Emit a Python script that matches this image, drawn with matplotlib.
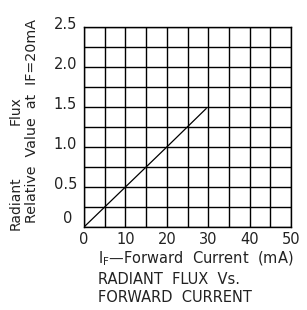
import numpy as np
import matplotlib.pyplot as plt

# forward current (mA) vs relative radiant flux
current_ma = [0, 10, 20, 29.5]
rel_flux = [0, 0.5, 1.0, 1.48]

x_ticks = [0, 10, 20, 30, 40, 50]
y_ticks = [0, 0.5, 1.0, 1.5, 2.0, 2.5]
y_tick_labels = ["0", "0.5", "1.0", "1.5", "2.0", "2.5"]

plt.rcParams['font.family'] = ['DejaVu Sans']
TXT = '#222222'

fig = plt.figure(figsize=(3.07, 3.10), dpi=100)
W, H = 307, 310
ax = fig.add_axes([84 / W, 1 - 227 / H, 207 / W, 200 / H])

ax.plot(current_ma, rel_flux, color='black', lw=0.9)

ax.set_xlim(0, 50)
ax.set_ylim(0, 2.5)
ax.set_xticks(np.arange(0, 50.1, 5))
ax.set_yticks(np.arange(0, 2.51, 0.25))
ax.set_xticklabels([])
ax.set_yticklabels([])
ax.tick_params(length=0)
ax.grid(True, color='black', lw=1.0)
for s in ax.spines.values():
    s.set_color('black')
    s.set_linewidth(1.0)

for v in x_ticks:
    ax.text(v, -0.16, str(v), ha='center', va='center', fontsize=10.5,
            color=TXT)
for v, lab in zip(y_ticks, y_tick_labels):
    if v == 0:
        ax.text(-2.9, 0.11, lab, ha='right', va='center', fontsize=10.5, color=TXT)
    else:
        ax.text(-1.7, v + 0.03, lab, ha='right', va='center', fontsize=10.5, color=TXT)

fig.text(98 / W, 1 - 259 / H, r"I$_\mathregular{F}$—Forward  Current  (mA)",
         ha='left', va='center', fontsize=10.5, color=TXT)
fig.text(98 / W, 1 - 279 / H, "RADIANT  FLUX  Vs.", ha='left', va='center',
         fontsize=10.5, color=TXT)
fig.text(98 / W, 1 - 298 / H, "FORWARD  CURRENT", ha='left', va='center',
         fontsize=10.5, color=TXT)

fig.text(16 / W, 1 - 230 / H, "Radiant", rotation=90, ha='center',
         va='bottom', fontsize=10, color=TXT)
fig.text(16 / W, 1 - 125 / H, "Flux", rotation=90, ha='center',
         va='bottom', fontsize=10, color=TXT)
fig.text(32 / W, 1 - 121 / H, "Relative  Value  at  IF=20mA", rotation=90,
         ha='center', va='center', fontsize=10.3, color=TXT)

fig.savefig("out.png", dpi=100)
